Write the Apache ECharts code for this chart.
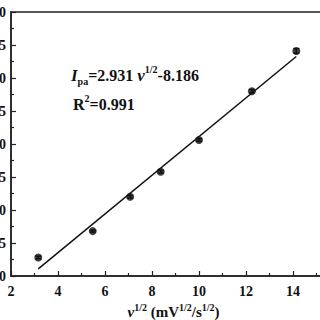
<!DOCTYPE html>
<html>
<head>
<meta charset="utf-8">
<script src="https://cdn.jsdelivr.net/npm/echarts@6/dist/echarts.min.js"></script>
<style>
  html, body { margin: 0; padding: 0; background: #fff; }
  #chart { width: 320px; height: 320px; }
</style>
</head>
<body>
<div id="chart"></div>
<script>
// sqrt of scan rate vs anodic peak current
var vHalf = [3.16, 5.48, 7.07, 8.37, 10.0, 12.25, 14.14];
var ipa = [2.8, 6.8, 12.0, 15.8, 20.6, 28.0, 34.1];
var ipaErr = [0.2, 0.15, 0.2, 0.2, 0.2, 0.25, 0.35];
// fitted line endpoints
var fitLine = [[3.16, 1.08], [14.14, 33.26]];

var xTicks = { min: 2, max: 16, step: 2 };
var yTicks = { min: 0, max: 40, step: 5 };

(function() {
  var ink = '#111';
  var font = '"Liberation Serif", "Times New Roman", serif';

  var points = vHalf.map(function(v, i) { return [v, ipa[i]]; });
  var bars = vHalf.map(function(v, i) { return [v, ipa[i] - ipaErr[i], ipa[i] + ipaErr[i]]; });

  var txt = function(size, extra) {
    var s = { fontFamily: font, fontWeight: 'bold', fontSize: size, fill: ink, color: ink };
    for (var k in extra) s[k] = extra[k];
    return s;
  };

  var chart = echarts.init(document.getElementById('chart'), null, { renderer: 'svg' });
  chart.setOption({
    animation: false,
    backgroundColor: '#fff',
    grid: {
      left: 11, top: 12, bottom: 44, right: -20,
      containLabel: false,
      outerBoundsMode: 'none',
      show: true, borderColor: '#222', borderWidth: 1.5, backgroundColor: 'transparent'
    },
    xAxis: {
      type: 'value',
      min: xTicks.min, max: xTicks.max, interval: xTicks.step,
      name: '{it|v}{sup|1/2} (mV{sup|1/2}/s{sup|1/2})',
      nameLocation: 'middle',
      nameGap: 22,
      nameTextStyle: {
        color: ink, fontFamily: font, fontWeight: 'bold', fontSize: 15,
        padding: [0, 4, 0, 0],
        rich: {
          it: txt(15, { fontStyle: 'italic', lineHeight: 18 }),
          sup: txt(10, { verticalAlign: 'top', lineHeight: 11 })
        }
      },
      axisLine: { onZero: false, lineStyle: { color: '#222', width: 1.5 } },
      axisTick: { inside: true, length: 5, lineStyle: { color: '#222', width: 1.2 } },
      minorTick: { show: true, splitNumber: 2, length: 3, lineStyle: { color: '#222', width: 1.2 } },
      axisLabel: { color: ink, fontFamily: font, fontWeight: 'bold', fontSize: 14, margin: 8 },
      splitLine: { show: false }
    },
    yAxis: {
      type: 'value',
      min: yTicks.min, max: yTicks.max, interval: yTicks.step,
      axisLine: { onZero: false, lineStyle: { color: '#222', width: 1.5 } },
      axisTick: { inside: true, length: 5, lineStyle: { color: '#222', width: 1.2 } },
      minorTick: { show: true, splitNumber: 2, length: 3, lineStyle: { color: '#222', width: 1.2 } },
      axisLabel: { color: ink, fontFamily: font, fontWeight: 'bold', fontSize: 14, margin: 5 },
      splitLine: { show: false }
    },
    graphic: [
      {
        type: 'text',
        left: 71, top: 64,
        style: txt(16, {
          text: '{it|I}{sub|pa}{n|=2.931 }{it|v}{sup|1/2}{n|-8.186}',
          rich: {
            it: txt(17, { fontStyle: 'italic', lineHeight: 22 }),
            n: txt(16, { lineHeight: 22 }),
            sub: txt(10, { verticalAlign: 'bottom', lineHeight: 8 }),
            sup: txt(10, { verticalAlign: 'top', lineHeight: 12 })
          }
        })
      },
      {
        type: 'text',
        left: 73, top: 93,
        style: txt(16, {
          text: '{n|R}{sup|2}{n|=0.991}',
          rich: {
            n: txt(16, { lineHeight: 22 }),
            sup: txt(10, { verticalAlign: 'top', lineHeight: 12 })
          }
        })
      }
    ],
    series: [
      {
        type: 'line',
        data: fitLine,
        symbol: 'none',
        lineStyle: { color: ink, width: 1.5 },
        z: 2
      },
      {
        type: 'custom',
        data: bars,
        renderItem: function(params, api) {
          var lo = api.coord([api.value(0), api.value(1)]);
          var hi = api.coord([api.value(0), api.value(2)]);
          var w = 3;
          var st = { stroke: ink, lineWidth: 1.5 };
          return {
            type: 'group',
            children: [
              { type: 'line', shape: { x1: lo[0], y1: lo[1], x2: hi[0], y2: hi[1] }, style: st },
              { type: 'line', shape: { x1: lo[0] - w, y1: lo[1], x2: lo[0] + w, y2: lo[1] }, style: st },
              { type: 'line', shape: { x1: hi[0] - w, y1: hi[1], x2: hi[0] + w, y2: hi[1] }, style: st }
            ]
          };
        },
        z: 3
      },
      {
        type: 'scatter',
        data: points,
        symbol: 'circle',
        symbolSize: 8,
        itemStyle: { color: ink },
        z: 4
      }
    ]
  });
  window.addEventListener('resize', function() { chart.resize(); });
})();
</script>
</body>
</html>
